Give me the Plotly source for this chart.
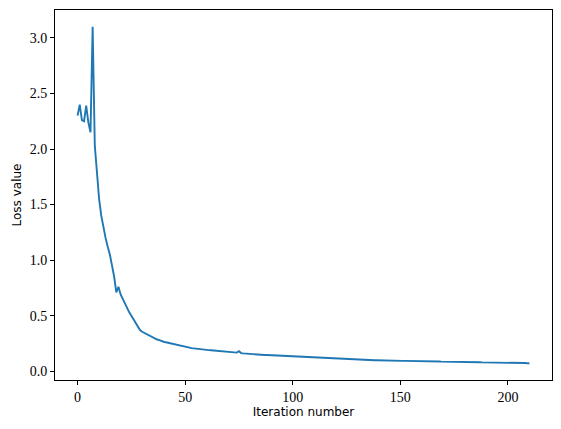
import plotly.graph_objects as go

iterations = list(range(211))
loss_values = [
    2.30, 2.40, 2.26, 2.25, 2.39, 2.24, 2.15, 3.10, 2.03, 1.78,
    1.55, 1.40, 1.28, 1.20, 1.12, 1.05, 0.95, 0.85, 0.71, 0.76,
    0.69, 0.65, 0.61, 0.56, 0.53, 0.50, 0.47, 0.44, 0.40, 0.37,
    0.355, 0.345, 0.335, 0.32, 0.31, 0.30, 0.29, 0.285, 0.28, 0.27,
    0.265, 0.26, 0.255, 0.25, 0.245, 0.24, 0.235, 0.23, 0.225, 0.222,
    0.218, 0.215, 0.212, 0.208, 0.205, 0.202, 0.200, 0.198, 0.196, 0.194,
    0.192, 0.190, 0.188, 0.186, 0.184, 0.182, 0.180, 0.178, 0.177, 0.175,
    0.174, 0.172, 0.171, 0.169, 0.167, 0.180, 0.163, 0.160, 0.158, 0.157,
    0.155, 0.154, 0.153, 0.151, 0.150, 0.149, 0.147, 0.146, 0.145, 0.144,
    0.142, 0.141, 0.140, 0.139, 0.138, 0.137, 0.136, 0.134, 0.133, 0.132,
    0.131, 0.130, 0.129, 0.128, 0.127, 0.126, 0.125, 0.124, 0.123, 0.122,
    0.121, 0.120, 0.119, 0.118, 0.117, 0.116, 0.115, 0.114, 0.113, 0.112,
    0.111, 0.110, 0.109, 0.108, 0.108, 0.107, 0.106, 0.106, 0.105, 0.105,
    0.104, 0.103, 0.103, 0.102, 0.102, 0.101, 0.100, 0.100, 0.099, 0.099,
    0.098, 0.098, 0.097, 0.097, 0.096, 0.096, 0.095, 0.095, 0.095, 0.094,
    0.094, 0.093, 0.093, 0.093, 0.092, 0.092, 0.091, 0.091, 0.091, 0.090,
    0.090, 0.089, 0.089, 0.089, 0.088, 0.088, 0.087, 0.087, 0.087, 0.086,
    0.086, 0.085, 0.085, 0.085, 0.084, 0.084, 0.083, 0.083, 0.083, 0.082,
    0.082, 0.082, 0.081, 0.081, 0.081, 0.080, 0.080, 0.080, 0.079, 0.079,
    0.079, 0.078, 0.078, 0.078, 0.077, 0.077, 0.077, 0.076, 0.076, 0.076,
    0.075, 0.075, 0.075, 0.074, 0.074, 0.074, 0.073, 0.073, 0.073, 0.072,
    0.072,
]
x_ticks = [0, 50, 100, 150, 200]
y_ticks = [0.0, 0.5, 1.0, 1.5, 2.0, 2.5, 3.0]

fig = go.Figure(go.Scatter(
    x=iterations, y=loss_values, mode="lines",
    line=dict(color="#1f77b4", width=1.9), showlegend=False,
))

tick_font = dict(family="Liberation Serif, DejaVu Serif, serif", size=14, color="black")
label_font = dict(family="DejaVu Sans, Liberation Sans, sans-serif", size=12, color="black")

xmin, xmax = min(iterations), max(iterations)
ymin, ymax = min(loss_values), max(loss_values)
xpad = (xmax - xmin) * 0.05
ypad = (ymax - ymin) * 0.05

fig.update_layout(
    width=561, height=429,
    margin=dict(l=55, r=9, t=10, b=49, autoexpand=False),
    paper_bgcolor="white", plot_bgcolor="white",
    xaxis=dict(
        range=[xmin - xpad, xmax + xpad], tickvals=x_ticks, automargin=False,
        ticks="outside", ticklen=4, tickwidth=1, tickcolor="black",
        showline=True, linecolor="black", linewidth=1, mirror=True,
        showgrid=False, zeroline=False, tickfont=tick_font,
        title=dict(text="Iteration number", font=label_font, standoff=3),
    ),
    yaxis=dict(
        range=[ymin - ypad, ymax + ypad], tickvals=y_ticks, tickformat=".1f", automargin=False,
        ticks="outside", ticklen=4, tickwidth=1, tickcolor="black",
        showline=True, linecolor="black", linewidth=1, mirror=True,
        showgrid=False, zeroline=False, tickfont=tick_font,
        title=dict(text="Loss value", font=label_font, standoff=5),
    ),
)

fig.write_html(
    "out.html",
    config={"displayModeBar": False},
    post_script="document.body.style.margin='0';document.body.style.padding='0';",
)
